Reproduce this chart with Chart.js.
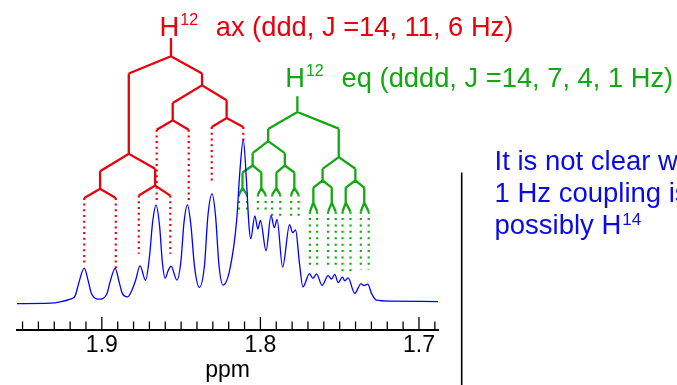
<!DOCTYPE html>
<html>
<head>
<meta charset="utf-8">
<script src="https://cdn.jsdelivr.net/npm/chart.js@4.4.1/dist/chart.umd.min.js"></script>
<style>
  html, body { margin: 0; padding: 0; background: #fff; }
  #wrap { width: 677px; height: 385px; position: relative; }
</style>
</head>
<body>
<div id="wrap"><canvas id="grafico"></canvas></div>
<script>
// spectrum (ppm, intensity above baseline)
const specPpm = [1.9535, 1.9326, 1.9263, 1.9200, 1.9168, 1.9147, 1.9111, 1.9086, 1.9067, 1.9021,
  1.8969, 1.8948, 1.8916, 1.8891, 1.8872, 1.8839, 1.8790, 1.8759, 1.8724, 1.8699,
  1.8680, 1.8658, 1.8636, 1.8618, 1.8601, 1.8582, 1.8564, 1.8526, 1.8501, 1.8482,
  1.8460, 1.8438, 1.8416, 1.8385, 1.8353, 1.8331, 1.8305, 1.8283, 1.8261, 1.8236,
  1.8192, 1.8150, 1.8129, 1.8108, 1.8088, 1.8072, 1.8061, 1.8035, 1.8016, 1.8000,
  1.7964, 1.7933, 1.7912, 1.7895, 1.7860, 1.7816, 1.7797, 1.7778, 1.7754, 1.7732,
  1.7690, 1.7669, 1.7646, 1.7611, 1.7573, 1.7552, 1.7531, 1.7510, 1.7482, 1.7468,
  1.7447, 1.7405, 1.7366, 1.7347, 1.7323, 1.7298, 1.7268, 1.7185, 1.6880];
const specInt = [0.3, 0.7, 2, 4.7, 8, 20, 35.7, 23, 11, 4.7,
  9.7, 22, 35.5, 22, 11, 7, 22, 38, 23.5, 48,
  81, 98.5, 78, 41, 25.7, 33, 37.7, 23.7, 43, 81,
  98.7, 78, 38, 16.5, 38, 88, 109.7, 88, 38, 18.8,
  35, 83, 133, 163.5, 123, 78, 65, 87.7, 74.7, 83.3,
  53, 88.3, 76, 84.2, 36.7, 79, 71, 73.7, 41, 17,
  30.3, 25.5, 30, 18.5, 28.3, 24.7, 29.5, 21.3, 26.7, 23,
  26, 10.5, 20, 18.3, 19.7, 10, 3.7, 2.8, 2.3];

// H12 ax splitting tree (ddd): node ppm per level, heights of node top / split
const axPpm = [[1.8564], [1.8830, 1.8368], [1.9011, 1.8664, 1.8553, 1.8213],
  [1.9111, 1.8912, 1.8767, 1.8568, 1.8654, 1.8452, 1.8307, 1.8108]];
const axTop = [[265], [229.7, 229.7], [132.3, 134.7, 200.3, 203],
  [105.7, 105.7, 108, 108, 173.7, 173.7, 176.3, 176.3]];
const axSplit = [[247], [149.7, 218], [114.7, 118, 183, 185.3]];
const axEnd = [41.3, 34.7, 50, 50, 100.3, 101.3, 120.3, 163];

// H12 eq splitting tree (dddd)
const eqPpm = [[1.7767], [1.7951, 1.7506], [1.8049, 1.7846, 1.7608, 1.7401],
  [1.8113, 1.7994, 1.7899, 1.7786, 1.7666, 1.7550, 1.7462, 1.7345],
  [1.8135, 1.8085, 1.8016, 1.7967, 1.7926, 1.7875, 1.7806, 1.7759,
   1.7688, 1.7642, 1.7573, 1.7525, 1.7482, 1.7432, 1.7367, 1.7317]];
const eqTop = [[207], [174.3, 174.7], [150.3, 150.3, 134.7, 134.7],
  [131, 131, 131, 131, 116, 116, 116, 116],
  [109, 109, 109, 109, 109, 109, 109, 109, 92, 92, 92, 92, 92, 92, 92, 92]];
const eqSplit = [[191.3], [162.3, 146.3], [138, 138, 123, 123],
  [115.5, 115.5, 115.5, 115.5, 101, 101, 101, 101]];
const eqEnd = [89.7, 89.7, 91.3, 91.3, 84.7, 84.7, 85.7, 85.7,
  37.3, 37.3, 37.3, 37.3, 31.3, 31.3, 34, 34];

const tickValues = [1.95, 1.94, 1.93, 1.92, 1.91, 1.90, 1.89, 1.88, 1.87, 1.86, 1.85, 1.84, 1.83, 1.82,
  1.81, 1.80, 1.79, 1.78, 1.77, 1.76, 1.75, 1.74, 1.73, 1.72, 1.71, 1.70, 1.69];
const majorTicks = [1.9, 1.8, 1.7];

const RED = "#e8000b";
const GREEN = "#11a811";
const BLUE = "#0000ff";
const FONT = "'Liberation Sans', Arial, sans-serif";

function buildTree(xs, tops, splits, ends) {
  const solid = [], dots = [];
  for (let k = 0; k < splits.length; k++) {
    xs[k].forEach((x, i) => {
      const s = splits[k][i];
      const a = 2 * i, b = 2 * i + 1;
      solid.push({ x, y: tops[k][i] }, { x, y: s }, { x, y: null });
      solid.push({ x: xs[k + 1][a], y: tops[k + 1][a] }, { x, y: s },
        { x: xs[k + 1][b], y: tops[k + 1][b] }, { x, y: null });
    });
  }
  const leaves = xs[xs.length - 1];
  const leafTop = tops[tops.length - 1];
  leaves.forEach((x, i) => dots.push({ x, y: leafTop[i] }, { x, y: ends[i] }, { x, y: null }));
  return { solid, dots };
}

const ax = buildTree(axPpm, axTop, axSplit, axEnd);
const eq = buildTree(eqPpm, eqTop, eqSplit, eqEnd);

function supText(ctx, x, y, main, sup, restX, rest, size, supSize) {
  ctx.font = size + "px " + FONT;
  ctx.fillText(main, x, y);
  const w = ctx.measureText(main).width;
  ctx.font = supSize + "px " + FONT;
  ctx.fillText(sup, x + w + 1, y - size * 0.4);
  ctx.font = size + "px " + FONT;
  ctx.fillText(rest, restX, y);
}

const decor = {
  id: "decor",
  afterDraw(chart) {
    const ctx = chart.ctx;
    const xs = chart.scales.x;
    const y0 = chart.chartArea.bottom;
    ctx.save();
    // ticks pointing up into the plot
    ctx.strokeStyle = "#000";
    ctx.lineWidth = 1.3;
    xs.ticks.forEach(t => {
      const major = majorTicks.some(m => Math.abs(m - t.value) < 1e-6);
      const px = xs.getPixelForValue(t.value);
      ctx.beginPath();
      ctx.moveTo(px, y0);
      ctx.lineTo(px, y0 - (major ? 13 : 8.5));
      ctx.stroke();
    });
    // separator line
    ctx.lineWidth = 1.6;
    ctx.beginPath();
    ctx.moveTo(461.7, 172.5);
    ctx.lineTo(461.7, 385);
    ctx.stroke();

    ctx.textBaseline = "alphabetic";
    ctx.textAlign = "left";
    ctx.fillStyle = RED;
    supText(ctx, 159.6, 36, "H", "12", 215.7, "ax (ddd, J =14, 11, 6 Hz)", 27.3, 16);
    ctx.fillStyle = GREEN;
    supText(ctx, 285.2, 87.3, "H", "12", 341.6, "eq (dddd, J =14, 7, 4, 1 Hz)", 27.3, 16);

    ctx.fillStyle = "#0a0ae6";
    ctx.font = "27.5px " + FONT;
    ctx.fillText("It is not clear which", 494.5, 170);
    ctx.fillText("1 Hz coupling is", 494.5, 202);
    ctx.fillText("possibly H", 494.5, 234);
    const w = ctx.measureText("possibly H").width;
    ctx.font = "17px " + FONT;
    ctx.fillText("14", 494.5 + w + 1, 225);
    ctx.restore();
  }
};

new Chart(document.getElementById("grafico"), {
  type: "line",
  data: {
    datasets: [
      { data: specPpm.map((p, i) => ({ x: p, y: specInt[i] })), borderColor: BLUE, borderWidth: 1.3,
        cubicInterpolationMode: "monotone", pointRadius: 0 },
      { data: ax.solid, borderColor: RED, borderWidth: 2.3, pointRadius: 0, tension: 0, spanGaps: false },
      { data: ax.dots, borderColor: RED, borderWidth: 2.2, borderDash: [2, 3.7], pointRadius: 0, spanGaps: false },
      { data: eq.solid, borderColor: GREEN, borderWidth: 2.3, pointRadius: 0, tension: 0, spanGaps: false },
      { data: eq.dots, borderColor: GREEN, borderWidth: 2.2, borderDash: [2, 4.4], pointRadius: 0, spanGaps: false }
    ]
  },
  options: {
    responsive: true,
    maintainAspectRatio: false,
    animation: false,
    events: [],
    layout: { padding: { left: 17, right: 239, top: 0, bottom: 3 } },
    plugins: { legend: { display: false }, tooltip: { enabled: false } },
    scales: {
      x: {
        type: "linear",
        reverse: true,
        min: 1.688,
        max: 1.9535,
        afterBuildTicks: s => { s.ticks = tickValues.map(v => ({ value: v })); },
        ticks: {
          autoSkip: false,
          maxRotation: 0,
          padding: 4,
          color: "#000",
          font: { family: FONT, size: 23, lineHeight: 1 },
          callback: v => majorTicks.some(m => Math.abs(m - v) < 1e-6) ? v.toFixed(1) : ""
        },
        grid: { display: true, drawOnChartArea: false, drawTicks: false },
        border: { display: true, color: "#000", width: 2 },
        title: { display: true, text: "ppm", color: "#000", font: { family: FONT, size: 23, lineHeight: 1 },
          padding: { top: -2, bottom: 0 } }
      },
      y: { display: false, min: -26, max: 303 }
    }
  },
  plugins: [decor]
});
</script>
</body>
</html>
